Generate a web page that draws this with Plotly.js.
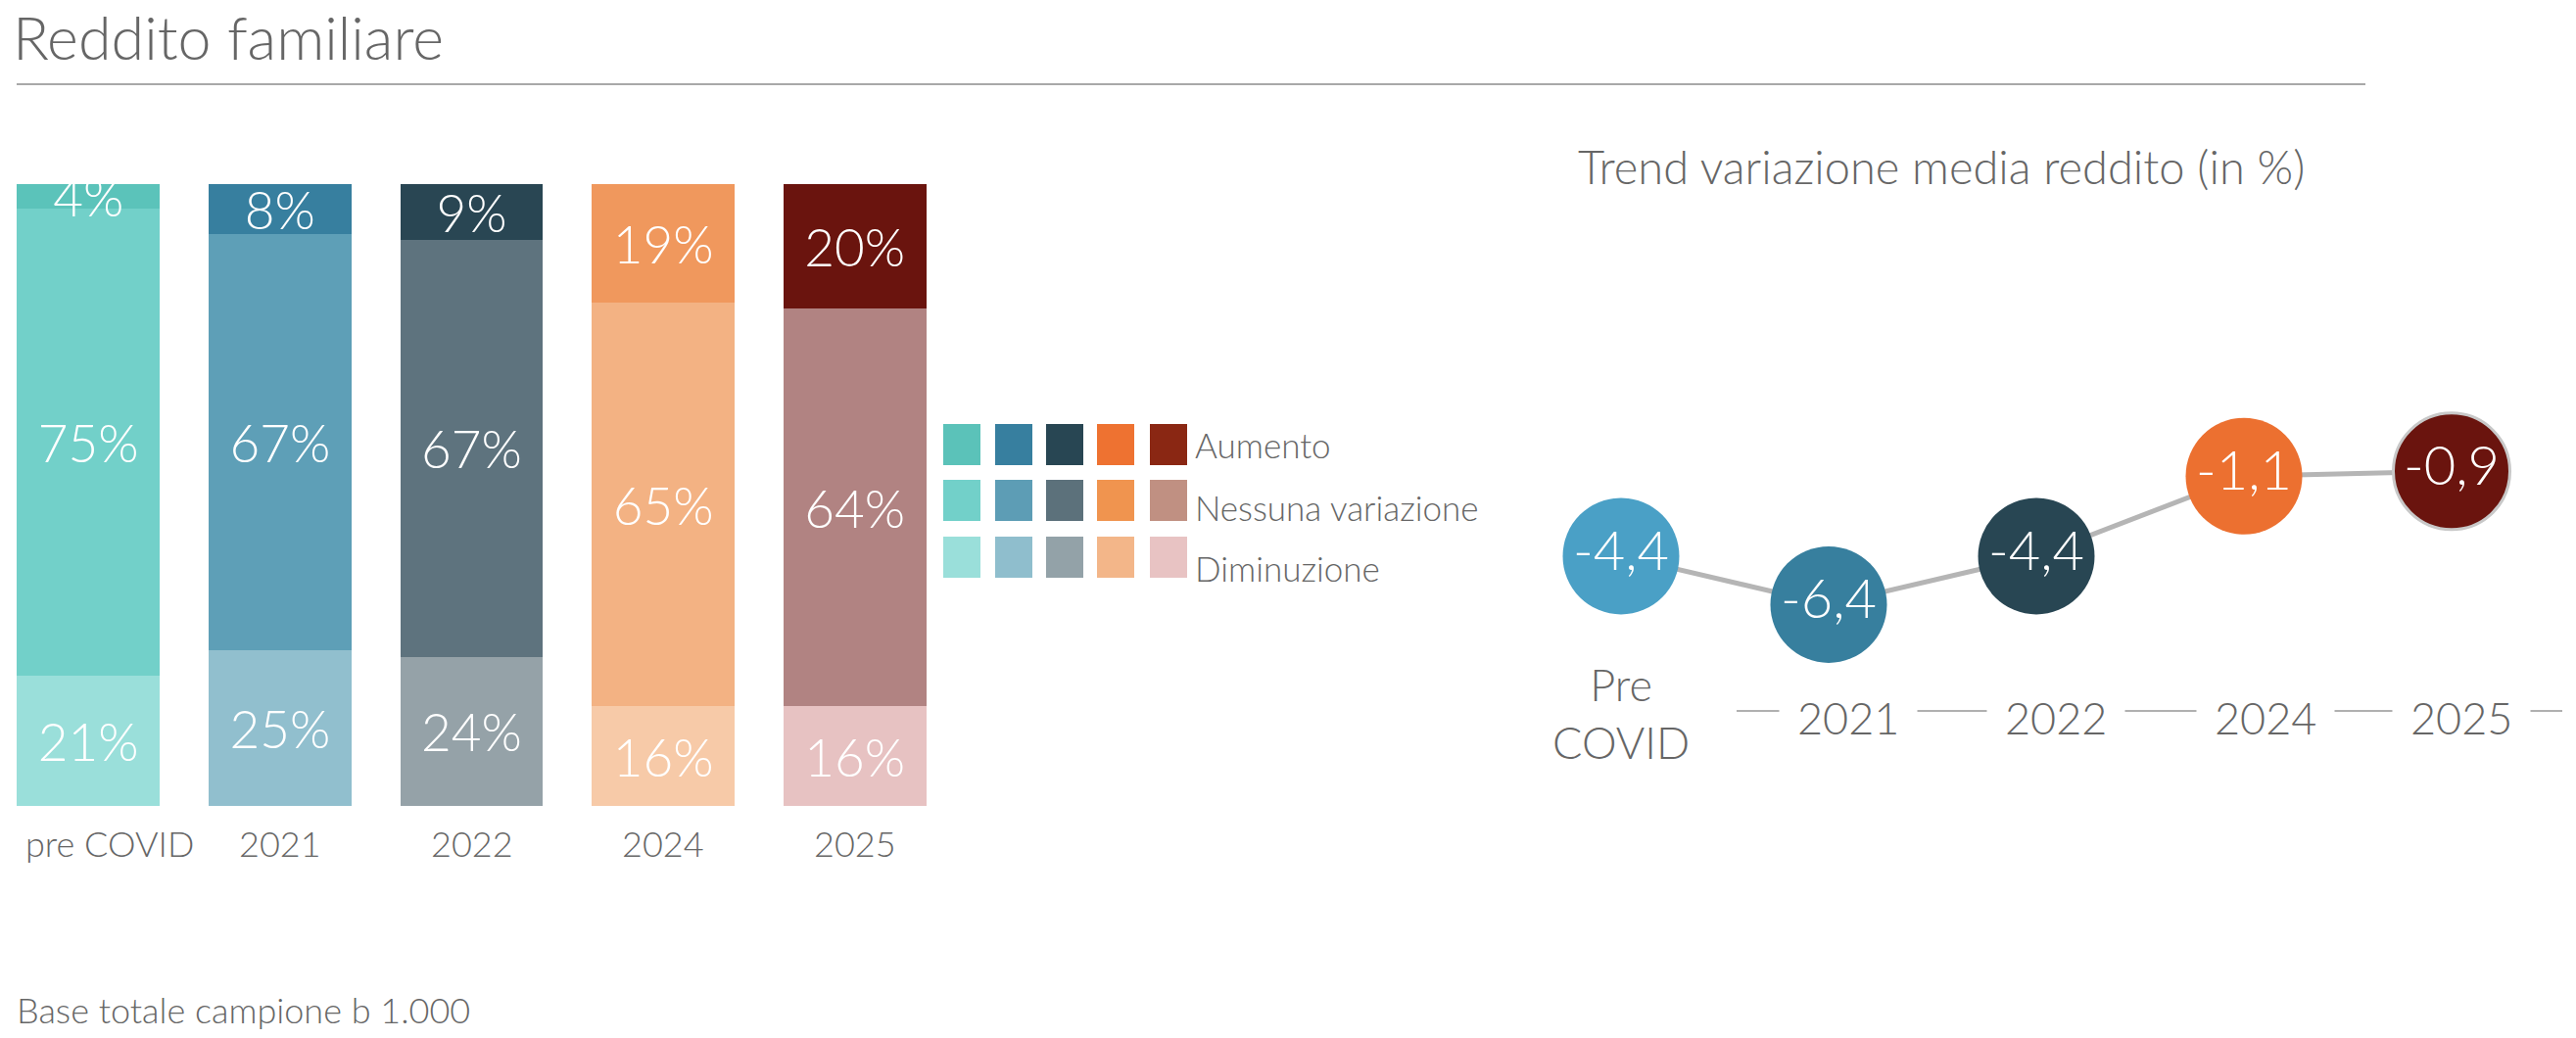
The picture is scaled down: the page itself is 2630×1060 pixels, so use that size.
<!DOCTYPE html>
<html><head><meta charset="utf-8">
<script src="https://cdn.plot.ly/plotly-3.0.1.min.js"></script>
<style>html,body{margin:0;padding:0;background:#fff;}#chart{width:2630px;height:1060px;}</style>
</head><body><div id="chart"></div>
<script>
// ---- data ----
const categories = ['pre COVID', '2021', '2022', '2024', '2025'];
const aumento = [4, 8, 9, 19, 20];
const nessunaVariazione = [75, 67, 67, 65, 64];
const diminuzione = [21, 25, 24, 16, 16];
const seriesNames = ['Aumento', 'Nessuna variazione', 'Diminuzione'];
const trendCategories = ['Pre<br>COVID', '2021', '2022', '2024', '2025'];
const trendValues = [-4.4, -6.4, -4.4, -1.1, -0.9];
const mainTitle = 'Reddito familiare';
const trendTitle = 'Trend variazione media reddito (in %)';
const footnote = 'Base totale campione b 1.000';

// ---- styles ----
const colAumento = ['#5BC3BA', '#377F9F', '#294653', '#F0985D', '#6A140E'];
const colNessuna = ['#72D0C9', '#5E9FB7', '#5E737E', '#F3B283', '#B18382'];
const colDiminuzione = ['#9ADFDA', '#91BFCE', '#95A2A8', '#F7CAA8', '#E7C2C2'];
const legendColors = [
  ['#5BC2B9', '#377F9F', '#284653', '#EE7231', '#8A2713'],
  ['#72D0C9', '#5D9DB5', '#5C717B', '#F0944F', '#C09082'],
  ['#9ADFDA', '#8FBECD', '#93A2A8', '#F3B689', '#E8C3C3']
];
const trendColors = ['#4AA0C6', '#377F9E', '#284653', '#EC7030', '#6A140E'];
const barLabelShift = [22, 0, 0, 0, 0];
const trendLabelShift = [0, 20, 20, 22, 10];

const W = 2630, H = 1060;
const px = x => x / W;
const py = y => 1 - y / H;
const FONT = 'Lato, "Open Sans", sans-serif';
const GREY = '#666666';

function barTrace(name, vals, colors) {
  return {
    type: 'bar', name: name, x: categories, y: vals,
    xaxis: 'x', yaxis: 'y', width: 0.745,
    marker: {color: colors, line: {width: 0}},
    text: vals.map(v => v + '%'),
    textposition: 'inside', insidetextanchor: 'middle',
    constraintext: 'none', textangle: 0,
    textfont: {family: FONT, size: 53, color: '#ffffff', weight: 300},
    hoverinfo: 'skip', showlegend: false
  };
}

const traces = [
  barTrace(seriesNames[2], diminuzione, colDiminuzione),
  barTrace(seriesNames[1], nessunaVariazione, colNessuna),
  barTrace(seriesNames[0], aumento, colAumento),
  {
    type: 'scatter', mode: 'lines+markers+text',
    x: trendCategories, y: trendValues, xaxis: 'x2', yaxis: 'y2',
    line: {color: '#b5b5b5', width: 5},
    marker: {size: 119, color: trendColors,
      line: {width: [0, 0, 0, 0, 3], color: '#c8c8c8'}, opacity: 1},
    text: trendValues.map(v => v.toFixed(1).replace('.', ',')),
    textposition: 'middle center',
    textfont: {family: FONT, size: 56, color: '#ffffff', weight: 300},
    cliponaxis: false, hoverinfo: 'skip', showlegend: false
  }
];

const shapes = [
  {type: 'line', xref: 'paper', yref: 'paper', x0: px(17), x1: px(2415), y0: py(86), y1: py(86),
   line: {color: '#a8a8a8', width: 2}},
  {type: 'line', xref: 'paper', yref: 'paper', x0: px(1773), x1: px(2616), y0: py(726), y1: py(726),
   line: {color: '#b0b0b0', width: 2}, layer: 'below'}
];
const legLefts = [963, 1016, 1068, 1120, 1174];
const legTops = [433, 490, 548];
const legTextY = [454, 518, 580];
legTops.forEach((t, r) => {
  legLefts.forEach((l, c) => {
    shapes.push({type: 'rect', xref: 'paper', yref: 'paper',
      x0: px(l), x1: px(l + 38), y0: py(t + 42), y1: py(t),
      fillcolor: legendColors[r][c], line: {width: 0}});
  });
});

const annotations = [
  {text: mainTitle, xref: 'paper', yref: 'paper', x: px(11), y: py(38),
   xanchor: 'left', yanchor: 'middle', showarrow: false,
   font: {family: FONT, size: 61, color: GREY, weight: 300}},
  {text: trendTitle, xref: 'paper', yref: 'paper', x: px(1609), y: py(170),
   xanchor: 'left', yanchor: 'middle', showarrow: false,
   font: {family: FONT, size: 47, color: GREY, weight: 300}},
  {text: footnote, xref: 'paper', yref: 'paper', x: px(15), y: py(1031),
   xanchor: 'left', yanchor: 'middle', showarrow: false,
   font: {family: FONT, size: 36, color: GREY, weight: 300}}
];
seriesNames.forEach((n, r) => {
  annotations.push({text: n, xref: 'paper', yref: 'paper', x: px(1218), y: py(legTextY[r]),
    xanchor: 'left', yanchor: 'middle', showarrow: false,
    font: {family: FONT, size: 35, color: GREY, weight: 300}});
});
categories.forEach((c, i) => {
  annotations.push({text: c, xref: 'x', yref: 'paper', x: i, y: py(861),
    xanchor: 'center', yanchor: 'middle', showarrow: false, xshift: barLabelShift[i],
    font: {family: FONT, size: 36, color: GREY, weight: 300}});
});
trendCategories.forEach((c, i) => {
  annotations.push({text: c, xref: 'x2', yref: 'paper', x: i, y: py(i === 0 ? 728 : 733),
    xanchor: 'center', yanchor: 'middle', showarrow: false, xshift: trendLabelShift[i],
    bgcolor: '#ffffff', borderpad: 18,
    font: {family: FONT, size: 45, color: GREY, weight: 300}});
});

const layout = {
  width: W, height: H, autosize: false,
  margin: {l: 0, r: 0, t: 0, b: 0, pad: 0},
  paper_bgcolor: '#ffffff', plot_bgcolor: 'rgba(0,0,0,0)',
  barmode: 'stack', showlegend: false,
  font: {family: FONT, color: GREY},
  xaxis: {domain: [px(12), px(951)], type: 'category', range: [-0.4, 4.4],
    showgrid: false, zeroline: false, showline: false, ticks: '',
    showticklabels: false, fixedrange: true},
  yaxis: {domain: [py(823), py(188)], range: [0, 100], visible: false, fixedrange: true},
  xaxis2: {domain: [px(1549), px(2609)], type: 'category', range: [-0.5, 4.5],
    visible: false, fixedrange: true},
  yaxis2: {domain: [py(657), py(459)], range: [-8, 0], visible: false, fixedrange: true},
  shapes: shapes, annotations: annotations
};

Plotly.newPlot('chart', traces, layout, {staticPlot: true, displayModeBar: false});
</script>
</body></html>
